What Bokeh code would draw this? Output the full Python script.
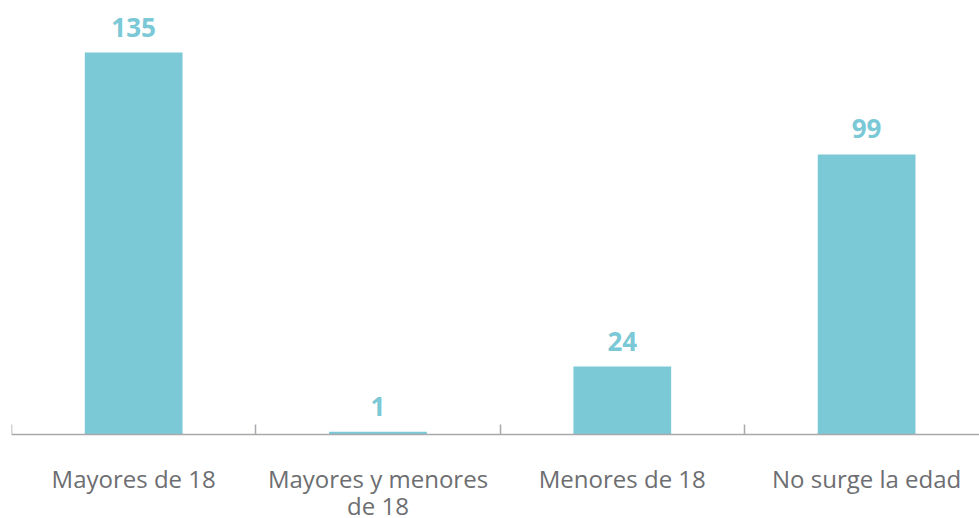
from bokeh.plotting import figure
from bokeh.models import FixedTicker, ColumnDataSource, Range1d
from bokeh.core.properties import value
from bokeh.embed import file_html
from bokeh.resources import INLINE

categories = ["Mayores de 18", "Mayores y menores\nde 18", "Menores de 18", "No surge la edad"]
counts = [135, 1, 24, 99]

positions = [i + 0.5 for i in range(len(categories))]
src = ColumnDataSource(dict(x=positions, top=counts, lab=[str(c) for c in counts]))

p = figure(width=979, height=518, output_backend="svg", toolbar_location=None,
           x_range=Range1d(0, 3.962), y_range=Range1d(-29.69, 153.4),
           min_border_left=11, min_border_right=0, min_border_top=0, min_border_bottom=0)
p.outline_line_color = None
p.xgrid.visible = False
p.ygrid.visible = False
p.yaxis.visible = False

BAR = "#7bc8d6"
p.vbar(x="x", top="top", width=0.4, bottom=0, source=src, color=BAR, line_color=None)
p.text(x="x", y="top", text="lab", source=src, y_offset=-16,
       text_align="center", text_baseline="bottom",
       text_font=value("Open Sans"), text_font_style="bold",
       text_font_size="26px", text_color=BAR)

ax = p.xaxis[0]
ax.fixed_location = 0
ax.ticker = FixedTicker(ticks=positions, minor_ticks=list(range(len(categories) + 1)))
ax.major_label_overrides = {pos: lab for pos, lab in zip(positions, categories)}
ax.major_tick_in = 0
ax.major_tick_out = 0
ax.minor_tick_in = 10
ax.minor_tick_out = 0
ax.minor_tick_line_color = "#a7a9ac"
ax.minor_tick_line_width = 1.5
ax.axis_line_color = "#a7a9ac"
ax.axis_line_width = 1.5
ax.major_label_standoff = 27
ax.major_label_text_font = "Open Sans"
ax.major_label_text_font_size = "24px"
ax.major_label_text_line_height = 0.82
ax.major_label_text_color = "#6d6e71"

open("out.html", "w").write(file_html(p, INLINE))
